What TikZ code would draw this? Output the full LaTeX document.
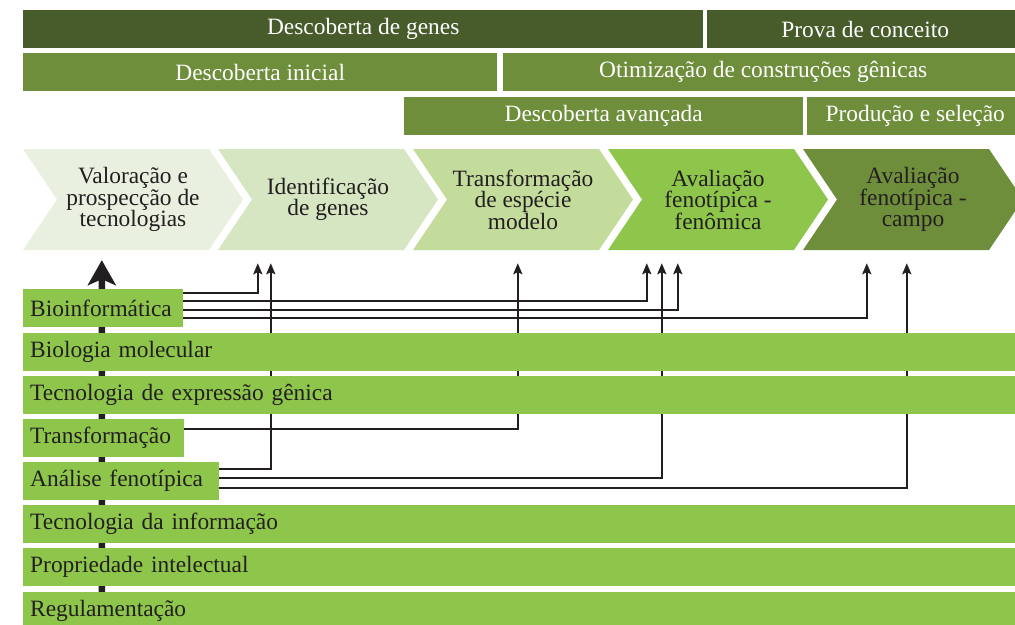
\documentclass[tikz,border=0pt]{standalone}
\usepackage{fontspec}
\setmainfont{Liberation Serif}
\usepackage{xcolor}
\usetikzlibrary{positioning,arrows.meta}
\pgfdeclarelayer{behind}
\pgfsetlayers{behind,main}
\definecolor{darkG}{HTML}{475B2B}
\definecolor{midG}{HTML}{6F8E3B}
\definecolor{barG}{HTML}{8DC64B}
\definecolor{chA}{HTML}{E9F0E0}
\definecolor{chB}{HTML}{D7E6C2}
\definecolor{chC}{HTML}{C3DB9B}
\definecolor{ink}{HTML}{231F20}
\tikzset{
every node/.style={font=\fontsize{23.4}{21.5}\selectfont, text=ink},
band/.style={fill=#1, text=white, anchor=north west, minimum height=38, inner sep=0},
row/.style={fill=barG, anchor=north west, minimum height=38, inner xsep=7, inner ysep=0, text width=#1, align=left},
chevtext/.style={minimum width=220, minimum height=101, inner sep=0, align=center},
link/.style={draw=ink, line width=2.2, -{Stealth[length=11pt,width=9pt,inset=2pt]}},
bigarrow/.style={draw=ink, line width=6.5, -{Stealth[length=25pt,width=28pt,inset=6pt]}}
}

\begin{document}
\begin{tikzpicture}[x=1pt, y=-1pt]
\useasboundingbox (0,0) rectangle (1015,624);

\node[band=darkG, minimum width=680] (genes) at (23,10) {Descoberta de genes};
\node[band=darkG, minimum width=316] (prova) at (707,10) {Prova de conceito};
\node[band=midG, minimum width=474] (inicial) at (23,53) {Descoberta inicial};
\node[band=midG, minimum width=520] (otim) at (503,53) {Otimização de construções gênicas};
\node[band=midG, minimum width=399] (avanc) at (404,97) {Descoberta avançada};
\node[band=midG, minimum width=216] (prod) at (807,97) {Produção e seleção};

\foreach \x/\col/\nm/\txt in {23/chA/ch1/{Valoração e\\prospecção de\\tecnologias},
  218/chB/ch2/{Identificação\\de genes},
  413/chC/ch3/{Transformação\\de espécie\\modelo},
  608/barG/ch4/{Avaliação\\fenotípica -\\fenômica},
  803/midG/ch5/{Avaliação\\fenotípica -\\campo}}{
	\fill[\col] (\x,149) -- ++(186,0) -- ++(34,50.5) -- ++(-34,50.5) -- ++(-186,0) -- ++(34,-50.5) -- cycle;
	\node[chevtext] (\nm) at (\x+110,199.5) {\txt};
}

\foreach \y/\w/\nm/\txt in {289/146/bio/Bioinformática, 333/1000/biomol/Biologia molecular,
  376/1000/expr/Tecnologia de expressão gênica, 419/147/transf/Transformação,
  462/182/anal/Análise fenotípica, 505/1000/ti/Tecnologia da informação,
  548/1000/prop/Propriedade intelectual, 592/1000/reg/Regulamentação}{
	\node[row=\w] (\nm) at (23,\y) {\txt};
}

\coordinate (root) at (102,630);

\begin{pgfonlayer}{behind}
\draw[bigarrow] (root) -- ([xshift=79,yshift=-10]ch1.south west);
\draw[link] ([yshift=-4]bio.north east) -| ([xshift=40,yshift=-13]ch2.south west);
\draw[link] ([yshift=-12]bio.north east) -| ([xshift=39,yshift=-13]ch4.south west);
\draw[link] ([yshift=-21]bio.north east) -| ([xshift=70,yshift=-13]ch4.south west);
\draw[link] ([yshift=-29]bio.north east) -| ([xshift=64,yshift=-13]ch5.south west);
\draw[link] ([yshift=-10]transf.north east) -| ([xshift=105,yshift=-13]ch3.south west);
\draw[link] ([yshift=-7]anal.north east) -| ([xshift=53,yshift=-13]ch2.south west);
\draw[link] ([yshift=-16]anal.north east) -| ([xshift=54,yshift=-13]ch4.south west);
\draw[link] ([yshift=-26]anal.north east) -| ([xshift=104,yshift=-13]ch5.south west);
\end{pgfonlayer}
\end{tikzpicture}
\end{document}
